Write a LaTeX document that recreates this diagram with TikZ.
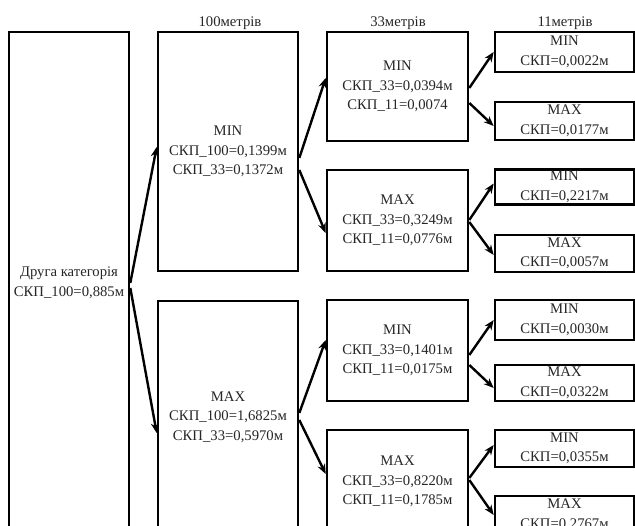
\documentclass[tikz,border=0pt]{standalone}
\usepackage{fontspec}
\setmainfont{Liberation Serif}
\usepackage{tikz}
\usetikzlibrary{arrows,arrows.meta,shapes,positioning}
\tikzstyle{arrow} = [line width=2.4pt,->,>={Stealth[length=10pt,width=8pt]},color=black]
\tikzstyle{box} = [rectangle, draw=black, line width=2.6pt, align=center, inner sep=0pt, text=black!85, font=\fontsize{14.7}{19.5}\selectfont]
\tikzstyle{title} = [text=black!85, font=\fontsize{14.7}{19.5}\selectfont]
\begin{document}
\begin{tikzpicture}[x=1pt,y=1pt]
\useasboundingbox (0,0) rectangle (635,526);
\clip (0,0) rectangle (635,526);

\node[title] (t100) at (230,503) {100метрів};
\node[title] (t33) at (398,503) {33метрів};
\node[title] (t11) at (565,503) {11метрів};

\node[box, minimum width=120, minimum height=502] (cat) at (69,243) {Друга категорія\\СКП\_100=0,885м};

\node[box, minimum width=140, minimum height=239] (m100min) at (228,374.5) {MIN\\СКП\_100=0,1399м\\СКП\_33=0,1372м};
\node[box, minimum width=140, minimum height=232] (m100max) at (228,109) {MAX\\СКП\_100=1,6825м\\СКП\_33=0,5970м};

\node[box, minimum width=141, minimum height=109] (m33a) at (397.5,439.5) {MIN\\СКП\_33=0,0394м\\СКП\_11=0,0074};
\node[box, minimum width=141, minimum height=101] (m33b) at (397.5,305.5) {MAX\\СКП\_33=0,3249м\\СКП\_11=0,0776м};
\node[box, minimum width=141, minimum height=101] (m33c) at (397.5,175.5) {MIN\\СКП\_33=0,1401м\\СКП\_11=0,0175м};
\node[box, minimum width=141, minimum height=103] (m33d) at (397.5,44.5) {MAX\\СКП\_33=0,8220м\\СКП\_11=0,1785м};

\node[box, minimum width=139, minimum height=40] (m11a) at (564.5,474) {MIN\\СКП=0,0022м};
\node[box, minimum width=139, minimum height=38] (m11b) at (564.5,405) {MAX\\СКП=0,0177м};
\node[box, minimum width=139, minimum height=35] (m11c) at (564.5,339) {MIN\\СКП=0,2217м};
\node[box, minimum width=139, minimum height=37] (m11d) at (564.5,272.5) {MAX\\СКП=0,0057м};
\node[box, minimum width=139, minimum height=40] (m11e) at (564.5,206) {MIN\\СКП=0,0030м};
\node[box, minimum width=139, minimum height=36] (m11f) at (564.5,143) {MAX\\СКП=0,0322м};
\node[box, minimum width=139, minimum height=37] (m11g) at (564.5,77.5) {MIN\\СКП=0,0355м};
\node[box, minimum width=139, minimum height=38] (m11h) at (564.5,11) {MAX\\СКП=0,2767м};

\draw[arrow] (cat.east) -- ([yshift=4.5]m100min.west);
\draw[arrow] ([yshift=-5]cat.east) -- ([yshift=-16]m100max.west);

\draw[arrow] ([yshift=-6.5]m100min.east) -- ([yshift=8.5]m33a.west);
\draw[arrow] ([yshift=-18.5]m100min.east) -- ([yshift=-12.5]m33b.west);
\draw[arrow] ([yshift=4]m100max.east) -- ([yshift=10.5]m33c.west);
\draw[arrow] ([yshift=-3]m100max.east) -- ([yshift=7.5]m33d.west);

\draw[arrow] ([yshift=-1.5]m33a.east) -- (m11a.west);
\draw[arrow] ([yshift=-16.5]m33a.east) -- ([yshift=-5]m11b.west);
\draw[arrow] ([yshift=0.5]m33b.east) -- ([yshift=3.5]m11c.west);
\draw[arrow] ([yshift=-1.5]m33b.east) -- ([yshift=-1.5]m11d.west);
\draw[arrow] ([yshift=-4.5]m33c.east) -- (m11e.west);
\draw[arrow] ([yshift=-14.5]m33c.east) -- ([yshift=-5]m11f.west);
\draw[arrow] ([yshift=3.5]m33d.east) -- ([yshift=3.5]m11g.west);
\draw[arrow] ([yshift=1.5]m33d.east) -- (m11h.west);
\end{tikzpicture}
\end{document}
